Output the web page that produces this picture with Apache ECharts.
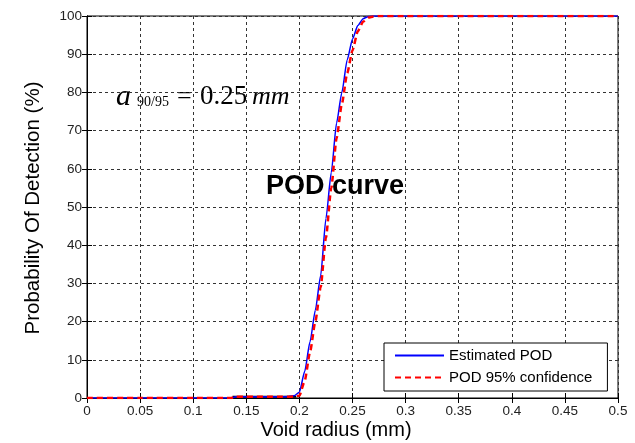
<!DOCTYPE html>
<html>
<head>
<meta charset="utf-8">
<script src="https://cdn.jsdelivr.net/npm/echarts@6/dist/echarts.min.js"></script>
<style>
html,body{margin:0;padding:0;background:#fff;}
#chart{width:635px;height:443px;}
</style>
</head>
<body>
<div id="chart"></div>
<script>
// ---- data ----
const radius = [0, 0.05, 0.1, 0.135, 0.14, 0.15, 0.16, 0.17, 0.18, 0.19, 0.195, 0.2, 0.205, 0.21, 0.215, 0.22, 0.225, 0.23, 0.235, 0.24, 0.245, 0.25, 0.255, 0.26, 0.265, 0.27, 0.275, 0.3, 0.4, 0.5];
const estimatedPOD = [0, 0, 0, 0, 0.3, 0.3, 0.3, 0.3, 0.3, 0.4, 0.6, 1.5, 7, 14.7, 23, 32, 47, 59, 72, 80, 88.5, 94, 97.5, 99.3, 99.9, 100, 100, 100, 100, 100];
const confidencePOD = [0, 0, 0, 0, 0.3, 0.3, 0.3, 0.3, 0.3, 0.3, 0.4, 0.6, 4.5, 12, 20, 29, 42, 55, 68, 77, 85, 91, 96, 98.5, 99.6, 99.9, 100, 100, 100, 100];
const bumpX = [0.137, 0.197];
const bumpY = [0.3, 0.3];
const seriesNames = ['Estimated POD', 'POD 95% confidence'];
const xTicks = [0, 0.05, 0.1, 0.15, 0.2, 0.25, 0.3, 0.35, 0.4, 0.45, 0.5];
const yTicks = [0, 10, 20, 30, 40, 50, 60, 70, 80, 90, 100];

const pair = (xs, ys) => xs.map((x, i) => [x, ys[i]]);
const SANS = 'Liberation Sans, Arial, sans-serif';
const SERIF = 'Liberation Serif, Times New Roman, serif';

const chart = echarts.init(document.getElementById('chart'), null, {renderer: 'canvas'});
const grid = {left: 87, right: 17, top: 16, bottom: 45, show: true, borderColor: '#000', borderWidth: 1, backgroundColor: '#fff'};
const splitDash = {show: true, lineStyle: {color: '#333', width: 1, type: [3, 3]}};
const fmtX = v => String(+v.toFixed(2));
chart.setOption({
  animation: false,
  backgroundColor: '#fff',
  grid: grid,
  xAxis: [{
    type: 'value', min: xTicks[0], max: xTicks[xTicks.length - 1], interval: 0.05,
    axisLine: {show: true, lineStyle: {color: '#000', width: 1}},
    axisTick: {show: true, inside: true, length: 5, lineStyle: {color: '#000'}},
    axisLabel: {formatter: fmtX, color: '#222', fontFamily: SANS, fontSize: 13.5, margin: 6},
    splitLine: splitDash
  }, {
    type: 'value', position: 'top', min: 0, max: 0.5, interval: 0.05,
    axisLine: {show: true, lineStyle: {color: '#000'}},
    axisTick: {show: true, inside: true, length: 5, lineStyle: {color: '#000'}},
    axisLabel: {show: false}, splitLine: {show: false}
  }],
  yAxis: [{
    type: 'value', min: yTicks[0], max: yTicks[yTicks.length - 1], interval: 10,
    axisLine: {show: true, lineStyle: {color: '#000', width: 1}},
    axisTick: {show: true, inside: true, length: 5, lineStyle: {color: '#000'}},
    axisLabel: {color: '#222', fontFamily: SANS, fontSize: 13.5, margin: 5},
    splitLine: splitDash
  }, {
    type: 'value', position: 'right', min: 0, max: 100, interval: 10,
    axisLine: {show: true, lineStyle: {color: '#000'}},
    axisTick: {show: true, inside: true, length: 5, lineStyle: {color: '#000'}},
    axisLabel: {show: false}, splitLine: {show: false}
  }],
  legend: {
    data: seriesNames,
    orient: 'vertical',
    left: 384, top: 343,
    padding: [5, 15, 6, 10],
    itemGap: 7,
    itemWidth: 49, itemHeight: 10,
    borderColor: '#000', borderWidth: 1,
    backgroundColor: '#fff',
    itemStyle: {opacity: 0},
    textStyle: {fontFamily: SANS, fontSize: 15, color: '#000'}
  },
  series: [{
    name: 'bump', type: 'line', data: pair(bumpX, bumpY), symbol: 'none',
    lineStyle: {color: '#000', width: 2}, silent: true, z: 1
  }, {
    name: seriesNames[0], type: 'line', data: pair(radius, estimatedPOD), symbol: 'none',
    smooth: 0.2, smoothMonotone: 'x',
    lineStyle: {color: '#0000ff', width: 1.5}, itemStyle: {color: '#0000ff'}, z: 2
  }, {
    name: seriesNames[1], type: 'line', data: pair(radius, confidencePOD), symbol: 'none',
    smooth: 0.2, smoothMonotone: 'x',
    lineStyle: {color: '#ff0000', width: 2.5, type: [6, 4]}, itemStyle: {color: '#ff0000'}, z: 3
  }],
  graphic: [
    {type: 'text', x: 33, y: 208, rotation: Math.PI / 2,
      style: {text: 'Probability Of Detection (%)', fontFamily: SANS, fontSize: 20.5, fill: '#000', align: 'center', verticalAlign: 'middle'}},
    {type: 'text', x: 336, y: 430,
      style: {text: 'Void radius (mm)', fontFamily: SANS, fontSize: 20, fill: '#000', align: 'center', verticalAlign: 'middle'}},
    {type: 'text', x: 335, y: 187, z: 10,
      style: {text: 'POD curve', fontFamily: SANS, fontWeight: 'bold', fontSize: 27, fill: '#000', align: 'center', verticalAlign: 'middle'}},
    {type: 'text', x: 116, y: 97,
      style: {text: 'a', fontFamily: SERIF, fontStyle: 'italic', fontSize: 30, fill: '#000', align: 'left', verticalAlign: 'middle'}},
    {type: 'text', x: 137, y: 102,
      style: {text: '90/95', fontFamily: SERIF, fontSize: 14, fill: '#000', align: 'left', verticalAlign: 'middle'}},
    {type: 'text', x: 177, y: 97,
      style: {text: '=', fontFamily: SERIF, fontSize: 26, fill: '#000', align: 'left', verticalAlign: 'middle'}},
    {type: 'text', x: 200, y: 97,
      style: {text: '0.25', fontFamily: SERIF, fontSize: 27, fill: '#000', align: 'left', verticalAlign: 'middle'}},
    {type: 'text', x: 252, y: 97,
      style: {text: 'mm', fontFamily: SERIF, fontStyle: 'italic', fontSize: 26, fill: '#000', align: 'left', verticalAlign: 'middle'}}
  ]
});
</script>
</body>
</html>
